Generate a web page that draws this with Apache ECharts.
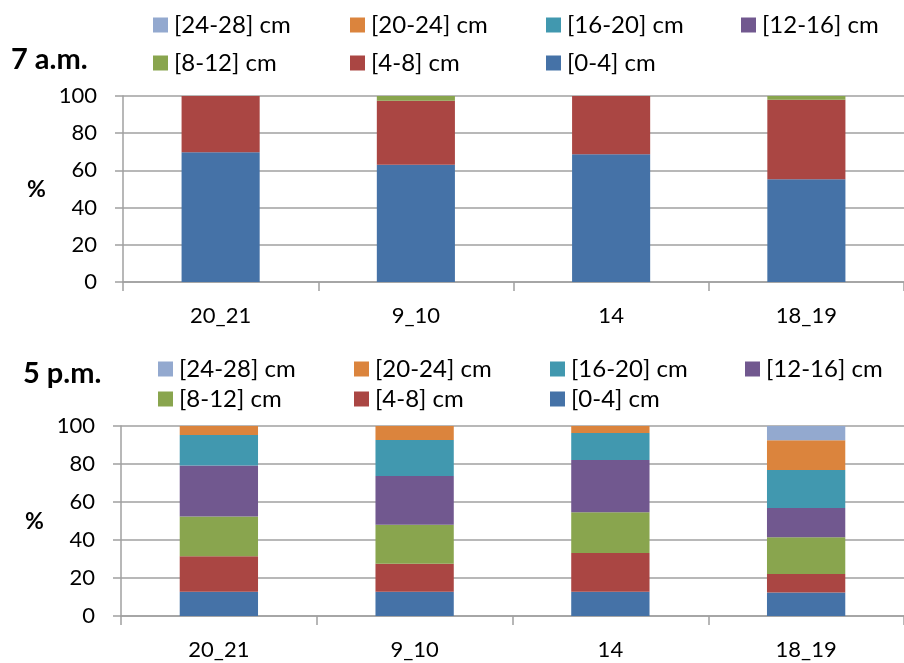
<!DOCTYPE html>
<html>
<head>
<meta charset="utf-8">
<script src="https://cdn.jsdelivr.net/npm/echarts@6/dist/echarts.min.js"></script>
<style>html,body{margin:0;padding:0;background:#fff;}#c{width:904px;height:663px;}</style>
</head>
<body>
<div id="c"></div>
<script>
const categories = ['20_21', '9_10', '14', '18_19'];
const classes = ['[0-4] cm', '[4-8] cm', '[8-12] cm', '[12-16] cm', '[16-20] cm', '[20-24] cm', '[24-28] cm'];
const colors = ['#4572A7', '#AA4643', '#89A54E', '#71588F', '#4198AF', '#DB843D', '#93A9CF'];
const yTicks = [0, 20, 40, 60, 80, 100];

// 7 a.m. (%)
const am_0_4   = [69.7, 63.1, 68.7, 55.2];
const am_4_8   = [30.3, 34.4, 31.3, 42.8];
const am_8_12  = [0, 2.5, 0, 2.0];
const am_12_16 = [0, 0, 0, 0];
const am_16_20 = [0, 0, 0, 0];
const am_20_24 = [0, 0, 0, 0];
const am_24_28 = [0, 0, 0, 0];

// 5 p.m. (%)
const pm_0_4   = [12.8, 12.8, 12.8, 12.4];
const pm_4_8   = [18.7, 14.7, 20.3, 9.7];
const pm_8_12  = [20.9, 20.5, 21.5, 19.3];
const pm_12_16 = [26.8, 25.7, 27.5, 15.5];
const pm_16_20 = [16.1, 18.9, 14.2, 20.0];
const pm_20_24 = [4.7, 7.4, 3.7, 15.6];
const pm_24_28 = [0, 0, 0, 7.5];

const amData = [am_0_4, am_4_8, am_8_12, am_12_16, am_16_20, am_20_24, am_24_28];
const pmData = [pm_0_4, pm_4_8, pm_8_12, pm_12_16, pm_16_20, pm_20_24, pm_24_28];

const FONT = 'Lato';
const gray = '#a0a0a0';

function xAx(gi) {
  return {
    type: 'category', gridIndex: gi, data: categories,
    axisLine: {show: true, lineStyle: {color: gray, width: 1.5}},
    axisTick: {show: true, length: 9, lineStyle: {color: gray, width: 1.5}},
    axisLabel: {fontFamily: FONT, fontSize: 22, color: '#000', margin: 23}
  };
}
function yAx(gi) {
  return {
    type: 'value', gridIndex: gi, min: yTicks[0], max: yTicks[yTicks.length - 1], interval: 20,
    axisLine: {show: true, lineStyle: {color: gray, width: 1.5}},
    axisTick: {show: true, length: 8, lineStyle: {color: gray, width: 1.5}},
    splitLine: {show: true, lineStyle: {color: gray, width: 1.5}},
    axisLabel: {fontFamily: FONT, fontSize: 22, color: '#000', margin: 26}
  };
}

const series = [];
classes.forEach((name, i) => {
  series.push({name: name, type: 'bar', stack: 'am', xAxisIndex: 0, yAxisIndex: 0,
    barWidth: '40%', itemStyle: {color: colors[i]}, data: amData[i]});
});
classes.forEach((name, i) => {
  series.push({name: name, type: 'bar', stack: 'pm', xAxisIndex: 1, yAxisIndex: 1,
    barWidth: '40%', itemStyle: {color: colors[i]}, data: pmData[i]});
});

// legend layout: row 1: 24-28, 20-24, 16-20, 12-16; row 2: 8-12, 4-8, 0-4
const legendOrder = [6, 5, 4, 3, 2, 1, 0];
function legends(xs, rowTops) {
  return legendOrder.map((ci, k) => ({
    data: [classes[ci]],
    left: xs[k % 4], top: rowTops[k < 4 ? 0 : 1],
    padding: 0,
    icon: 'rect', itemWidth: 15, itemHeight: 15,
    selectedMode: false,
    textStyle: {fontFamily: FONT, fontSize: 24, color: '#000', padding: [0, 0, 0, 1]}
  }));
}

const chart = echarts.init(document.getElementById('c'), null, {renderer: 'canvas'});
chart.setOption({
  animation: false,
  backgroundColor: '#fff',
  color: colors,
  title: [
    {text: '7 a.m.', left: 11, top: 45, padding: 0, textStyle: {fontFamily: FONT, fontSize: 29, fontWeight: 'bold', color: '#000'}},
    {text: '%', left: 27, top: 178, padding: 0, textStyle: {fontFamily: FONT, fontSize: 23, fontWeight: 'bold', color: '#000'}},
    {text: '5 p.m.', left: 23, top: 359, padding: 0, textStyle: {fontFamily: FONT, fontSize: 29, fontWeight: 'bold', color: '#000'}},
    {text: '%', left: 25, top: 510, padding: 0, textStyle: {fontFamily: FONT, fontSize: 23, fontWeight: 'bold', color: '#000'}}
  ],
  legend: legends([153, 350, 546, 741], [13, 51]).concat(legends([158, 354, 550, 745], [357, 387])),
  grid: [
    {left: 123, top: 96, width: 788, height: 186},
    {left: 121, top: 426, width: 784, height: 190}
  ],
  xAxis: [xAx(0), xAx(1)],
  yAxis: [yAx(0), yAx(1)],
  series: series
});
</script>
</body>
</html>
